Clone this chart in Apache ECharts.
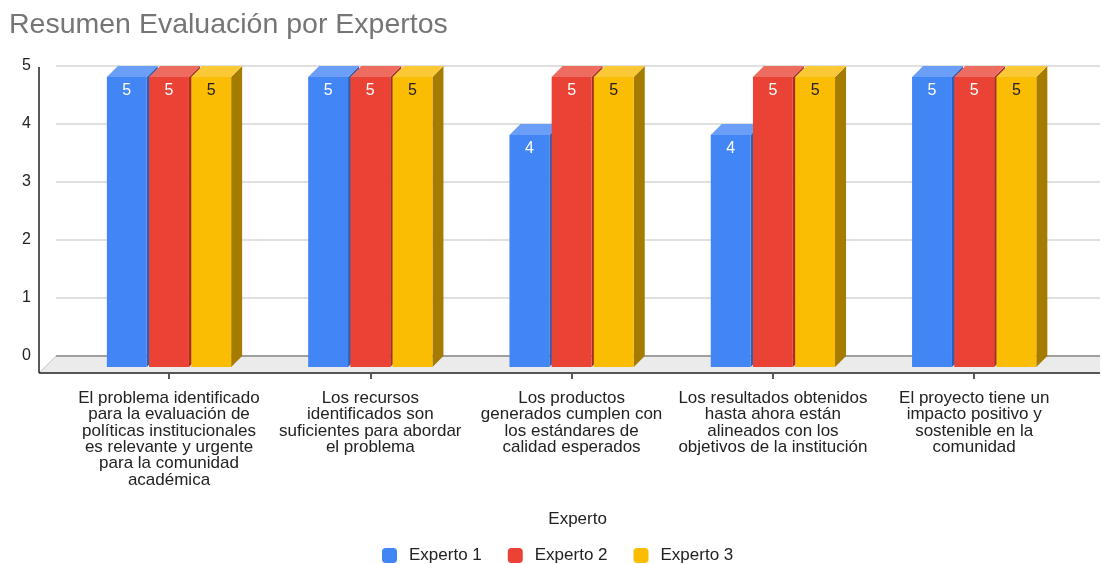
<!DOCTYPE html>
<html>
<head>
<meta charset="utf-8">
<script src="https://cdn.jsdelivr.net/npm/echarts@6/dist/echarts.min.js"></script>
<style>
  html, body { margin: 0; padding: 0; background: #fff; }
  #chart { width: 1102px; height: 564px; }
</style>
</head>
<body>
<div id="chart"></div>
<script>
// Criteria evaluated (category axis)
const categories = [
  'El problema identificado\npara la evaluación de\npolíticas institucionales\nes relevante y urgente\npara la comunidad\nacadémica',
  'Los recursos\nidentificados son\nsuficientes para abordar\nel problema',
  'Los productos\ngenerados cumplen con\nlos estándares de\ncalidad esperados',
  'Los resultados obtenidos\nhasta ahora están\nalineados con los\nobjetivos de la institución',
  'El proyecto tiene un\nimpacto positivo y\nsostenible en la\ncomunidad'
];

// Scores given by each expert
const experto1 = [5, 5, 4, 4, 5];
const experto2 = [5, 5, 5, 5, 5];
const experto3 = [5, 5, 5, 5, 5];

const seriesNames = ['Experto 1', 'Experto 2', 'Experto 3'];

// Value axis ticks
const yMin = 0, yMax = 5, yStep = 1;

const FONT = '"Liberation Sans", Arial, sans-serif';

// face colours: front, top, side
const palette = [
  { front: '#4285F4', top: '#6b9ff7', side: '#2f5fb3', text: '#ffffff' },
  { front: '#EA4335', top: '#ee6b60', side: '#a52f27', text: '#ffffff' },
  { front: '#FBBC04', top: '#fcc936', side: '#a67b02', text: '#222222' }
];

const DEPTH = 11;        // bar extrusion depth (px)
const FLOOR = 17;        // floor depth (px)

function barRenderer(k) {
  return function (params, api) {
    const cat = api.value(0);
    const val = api.value(1);
    const p = api.coord([cat, val]);
    const b = api.coord([cat, 0]);
    const band = api.size([1, 0])[0];
    const slot = band * 0.2096;
    const gap = 2.3;
    const w = slot - gap;
    const x0 = p[0] - 1.5 * slot + k * slot + gap / 2;
    const c = palette[k];
    const d = DEPTH;
    return {
      type: 'group',
      children: [
        { type: 'polygon', shape: { points: [[x0 + w, p[1]], [x0 + w + d, p[1] - d], [x0 + w + d, b[1] - d], [x0 + w, b[1]]] },
          style: { fill: c.side } },
        { type: 'polygon', shape: { points: [[x0, p[1]], [x0 + d, p[1] - d], [x0 + w + d, p[1] - d], [x0 + w, p[1]]] },
          style: { fill: c.top } },
        { type: 'rect', shape: { x: x0, y: p[1], width: w, height: b[1] - p[1] },
          style: { fill: c.front } },
        { type: 'text', x: x0 + w / 2, y: p[1] + 14,
          style: { text: String(val), fill: c.text, font: '16px ' + FONT, align: 'center', verticalAlign: 'middle' } }
      ]
    };
  };
}

function floorRenderer(params, api) {
  const cs = params.coordSys;
  const o = api.coord([0, 0]);
  const right = cs.x + cs.width;
  const topY = api.coord([0, yMax])[1];
  const fx = o[0] - FLOOR, fy = o[1] + FLOOR;
  return {
    type: 'group',
    children: [
      { type: 'polygon', shape: { points: [[o[0], o[1]], [right, o[1]], [right, fy], [fx, fy]] },
        style: { fill: '#ebebeb' } },
      { type: 'line', shape: { x1: o[0], y1: o[1], x2: right, y2: o[1] },
        style: { stroke: '#a0a0a0', lineWidth: 2 } },
      { type: 'line', shape: { x1: o[0], y1: o[1], x2: fx, y2: fy },
        style: { stroke: '#c8c8c8', lineWidth: 1 } },
      { type: 'line', shape: { x1: fx, y1: fy, x2: right, y2: fy },
        style: { stroke: '#555555', lineWidth: 2 } },
      { type: 'line', shape: { x1: fx, y1: topY + 1, x2: fx, y2: fy },
        style: { stroke: '#222222', lineWidth: 1.5 } }
    ]
  };
}

const chart = echarts.init(document.getElementById('chart'), null, { renderer: 'canvas' });

const barData = [experto1, experto2, experto3].map(arr => arr.map((v, i) => [i, v]));

chart.setOption({
  animation: false,
  textStyle: { fontFamily: FONT },
  title: {
    text: 'Resumen Evaluación por Expertos',
    left: 4, top: 6,
    textStyle: { fontSize: 28.5, fontWeight: 'normal', color: '#757575', fontFamily: FONT }
  },
  legend: {
    data: seriesNames,
    left: 382, top: 547,
    padding: 0,
    itemWidth: 15, itemHeight: 15, itemGap: 26,
    icon: 'roundRect',
    textStyle: { fontSize: 17, color: '#222', fontFamily: FONT, padding: [0, 0, 0, 7] }
  },
  grid: [
    // back wall (value gridlines)
    { left: 56, right: 2, top: 66, height: 290 },
    // front face of the bars
    { left: 68.35, width: 1006.5, top: 77, height: 290 }
  ],
  xAxis: [
    { gridIndex: 0, type: 'value', min: 0, max: 1, show: false },
    {
      gridIndex: 1, type: 'category', data: categories, offset: 6,
      axisLine: { show: false },
      axisTick: { show: true, alignWithLabel: true, length: 12, lineStyle: { color: '#222', width: 1.5 } },
      axisLabel: { interval: 0, margin: 17, fontSize: 17, lineHeight: 16.4, color: '#222', fontFamily: FONT },
      name: 'Experto', nameLocation: 'middle', nameGap: 138,
      nameTextStyle: { fontSize: 17, color: '#222', fontFamily: FONT, padding: [0, 0, 0, 12] }
    }
  ],
  yAxis: [
    {
      gridIndex: 0, type: 'value', min: yMin, max: yMax, interval: yStep,
      axisLine: { show: false }, axisTick: { show: false },
      axisLabel: { margin: 25, fontSize: 16, color: '#222', fontFamily: FONT },
      splitLine: { lineStyle: { color: '#e0e0e0', width: 2 } }
    },
    {
      gridIndex: 1, type: 'value', min: yMin, max: yMax, interval: yStep,
      show: false, splitLine: { show: false }
    }
  ],
  series: [
    {
      type: 'custom', name: 'floor', xAxisIndex: 0, yAxisIndex: 0, z: 1,
      renderItem: floorRenderer, data: [[0, 0]], silent: true
    }
  ].concat(seriesNames.map((name, k) => ({
    type: 'custom', name: name, xAxisIndex: 1, yAxisIndex: 1, z: 5,
    itemStyle: { color: palette[k].front },
    renderItem: barRenderer(k),
    encode: { x: 0, y: 1 },
    data: barData[k]
  })))
});
</script>
</body>
</html>
